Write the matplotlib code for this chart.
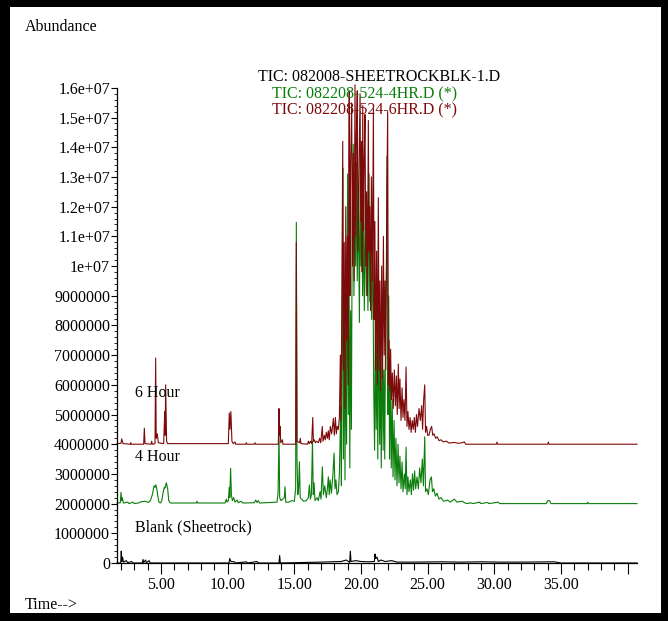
import numpy as np
import matplotlib.pyplot as plt
from matplotlib.patches import Rectangle
from matplotlib.ticker import FixedLocator

plt.rcParams['font.family'] = ['Liberation Serif', 'DejaVu Serif']
plt.rcParams['font.size'] = 11.5

# TIC traces: (retention time [min], abundance [millions])
blank_trace = [
    (1.70, 0.0), (1.98, 0.0), (2.02, 0.40), (2.06, 0.05), (2.12, 0.20), (2.18, 0.03),
    (2.40, 0.08), (2.50, 0.01), (2.80, 0.05), (2.90, 0.0), (3.60, 0.0), (3.65, 0.12),
    (3.70, 0.02), (3.85, 0.10), (3.90, 0.0), (4.10, 0.08), (4.20, 0.0), (10.10, 0.0),
    (10.15, 0.15), (10.25, 0.05), (10.50, 0.04), (10.60, 0.0), (11.40, 0.04), (11.50, 0.0),
    (12.20, 0.05), (12.30, 0.0), (13.85, 0.0), (13.90, 0.25), (13.95, 0.0), (17.00, 0.03),
    (18.50, 0.05), (18.90, 0.10), (19.15, 0.02), (19.20, 0.40), (19.25, 0.05), (19.60, 0.08),
    (20.00, 0.05), (20.50, 0.04), (21.00, 0.05), (21.05, 0.30), (21.10, 0.15), (21.20, 0.20),
    (21.30, 0.05), (21.50, 0.10), (21.80, 0.05), (22.30, 0.08), (22.70, 0.03), (24.00, 0.03),
    (26.00, 0.04), (27.50, 0.03), (29.00, 0.04), (30.50, 0.03), (32.00, 0.03), (34.50, 0.04),
    (35.00, 0.0), (40.70, 0.0),
]

hr4_trace = [
    (1.70, 0.02), (1.95, 0.03), (2.00, 0.38), (2.05, 0.10), (2.10, 0.20), (2.18, 0.02),
    (2.50, 0.05), (2.60, 0.0), (2.90, 0.05), (3.00, 0.0), (3.30, 0.02), (3.50, 0.06),
    (3.80, 0.08), (4.05, 0.04), (4.20, 0.10), (4.35, 0.30), (4.48, 0.60), (4.55, 0.55),
    (4.62, 0.63), (4.70, 0.45), (4.78, 0.20), (4.85, 0.05), (4.95, 0.02), (5.05, 0.08),
    (5.15, 0.35), (5.25, 0.55), (5.30, 0.52), (5.40, 0.70), (5.50, 0.50), (5.58, 0.10),
    (5.70, 0.02), (7.65, 0.02), (7.70, 0.08), (7.75, 0.02), (9.80, 0.02), (9.90, 0.15),
    (9.95, 0.05), (10.05, 0.10), (10.12, 0.55), (10.16, 0.20), (10.22, 1.19), (10.28, 0.30),
    (10.35, 0.10), (10.45, 0.20), (10.55, 0.05), (10.70, 0.12), (10.80, 0.03), (11.00, 0.08),
    (11.15, 0.02), (12.00, 0.03), (12.10, 0.12), (12.20, 0.04), (12.30, 0.10), (12.40, 0.02),
    (13.70, 0.05), (13.78, 0.35), (13.85, 2.40), (13.90, 0.20), (14.00, 0.10), (14.25, 0.20),
    (14.30, 0.57), (14.36, 0.05), (14.60, 0.05), (14.80, 0.10), (15.00, 0.08), (15.10, 0.50),
    (15.15, 9.47), (15.20, 1.50), (15.26, 0.30), (15.32, 0.50), (15.38, 1.41), (15.44, 0.20),
    (15.55, 0.15), (15.70, 0.08), (15.90, 0.10), (16.05, 0.20), (16.13, 0.63), (16.20, 0.15),
    (16.28, 0.30), (16.36, 2.10), (16.42, 0.30), (16.48, 0.70), (16.55, 0.10), (16.70, 0.20),
    (16.80, 0.10), (16.93, 0.40), (17.00, 0.15), (17.10, 1.24), (17.18, 0.30), (17.28, 0.60),
    (17.40, 0.20), (17.48, 0.50), (17.55, 0.90), (17.62, 0.30), (17.68, 0.80), (17.78, 0.35),
    (17.88, 0.90), (17.98, 1.70), (18.05, 0.50), (18.12, 0.80), (18.20, 0.30), (18.30, 0.40),
    (18.38, 1.00), (18.48, 3.30), (18.53, 0.60), (18.58, 5.50), (18.63, 11.30), (18.68, 1.50),
    (18.74, 7.00), (18.80, 0.80), (18.86, 6.00), (18.92, 2.00), (19.00, 11.10), (19.05, 3.00),
    (19.10, 8.50), (19.16, 1.20), (19.22, 6.50), (19.28, 2.50), (19.34, 9.50), (19.42, 12.10),
    (19.47, 7.00), (19.53, 10.00), (19.60, 8.00), (19.66, 11.50), (19.72, 7.50), (19.80, 10.50),
    (19.88, 6.10), (19.95, 12.00), (20.00, 8.00), (20.06, 10.00), (20.12, 7.00), (20.18, 9.50),
    (20.25, 6.50), (20.32, 10.40), (20.40, 7.00), (20.46, 9.00), (20.52, 6.50), (20.60, 11.10),
    (20.66, 6.80), (20.72, 8.50), (20.80, 6.20), (20.88, 9.00), (20.95, 4.00), (21.02, 1.80),
    (21.08, 6.50), (21.14, 2.50), (21.20, 5.50), (21.26, 1.50), (21.33, 7.00), (21.40, 2.00),
    (21.46, 5.00), (21.52, 1.20), (21.60, 6.00), (21.66, 1.80), (21.72, 4.50), (21.78, 1.50),
    (21.85, 6.50), (21.92, 8.00), (21.97, 11.70), (22.02, 3.00), (22.08, 7.00), (22.14, 1.50),
    (22.20, 4.50), (22.27, 1.20), (22.34, 3.50), (22.40, 0.90), (22.48, 2.80), (22.55, 0.80),
    (22.62, 2.20), (22.70, 0.60), (22.78, 2.00), (22.85, 0.70), (22.92, 1.60), (23.00, 0.50),
    (23.08, 1.40), (23.15, 0.40), (23.25, 1.00), (23.32, 0.50), (23.38, 1.90), (23.45, 0.30),
    (23.52, 0.90), (23.60, 0.40), (23.70, 0.80), (23.78, 0.30), (23.86, 1.00), (23.94, 0.45),
    (24.02, 1.10), (24.10, 0.50), (24.20, 0.90), (24.30, 0.50), (24.40, 1.20), (24.50, 0.70),
    (24.60, 1.50), (24.68, 0.60), (24.78, 2.25), (24.84, 0.40), (24.95, 0.50), (25.05, 0.30),
    (25.18, 0.80), (25.28, 0.90), (25.36, 0.40), (25.46, 0.50), (25.58, 0.25), (25.70, 0.35),
    (25.85, 0.15), (26.00, 0.20), (26.20, 0.08), (26.50, 0.12), (26.70, 0.05), (27.00, 0.15),
    (27.20, 0.05), (27.60, 0.08), (27.80, 0.02), (28.00, 0.0), (28.20, 0.03), (28.40, 0.0),
    (28.90, 0.05), (29.00, 0.0), (29.50, 0.04), (29.60, 0.0), (30.30, 0.05), (30.40, 0.0),
    (33.90, 0.0), (34.00, 0.10), (34.15, 0.10), (34.25, 0.0), (36.95, 0.0), (37.00, 0.05),
    (37.05, 0.0), (40.70, 0.0),
]

hr6_trace = [
    (1.70, 0.02), (2.00, 0.03), (2.05, 0.18), (2.10, 0.10), (2.15, 0.02), (2.70, 0.0),
    (2.73, 0.05), (2.76, 0.0), (3.70, 0.0), (3.75, 0.54), (3.80, 0.02), (4.25, 0.0),
    (4.30, 0.10), (4.35, 0.0), (4.55, 0.02), (4.60, 2.90), (4.64, 0.20), (4.72, 0.35),
    (4.80, 0.05), (5.20, 0.02), (5.28, 1.10), (5.31, 0.30), (5.35, 2.00), (5.42, 0.10),
    (5.50, 0.02), (10.05, 0.02), (10.12, 1.05), (10.17, 0.50), (10.24, 1.10), (10.32, 0.10),
    (10.42, 0.02), (10.55, 0.08), (10.60, 0.0), (11.35, 0.0), (11.40, 0.05), (11.45, 0.0),
    (12.00, 0.0), (12.05, 0.05), (12.10, 0.0), (13.80, 0.0), (13.85, 1.20), (13.89, 0.30),
    (13.93, 0.60), (13.98, 0.05), (14.10, 0.15), (14.15, 0.0), (15.10, 0.0), (15.15, 6.80),
    (15.20, 0.10), (15.40, 0.05), (15.45, 0.20), (15.50, 0.02), (16.00, 0.0), (16.05, 0.10),
    (16.12, 0.02), (16.20, 0.10), (16.30, 0.02), (16.38, 0.90), (16.43, 0.10), (16.50, 0.15),
    (16.58, 0.05), (16.65, 0.10), (16.80, 0.05), (16.90, 0.20), (16.98, 0.05), (17.10, 0.60),
    (17.15, 0.10), (17.25, 0.30), (17.32, 0.15), (17.40, 0.40), (17.48, 0.20), (17.55, 0.45),
    (17.62, 0.15), (17.70, 0.60), (17.80, 0.35), (17.93, 0.87), (18.00, 0.30), (18.08, 0.90),
    (18.15, 0.35), (18.22, 0.60), (18.30, 0.50), (18.38, 0.90), (18.45, 3.00), (18.50, 0.80),
    (18.56, 4.50), (18.63, 10.20), (18.68, 2.50), (18.74, 6.80), (18.80, 1.20), (18.86, 8.00),
    (18.92, 3.50), (18.98, 7.00), (19.04, 2.00), (19.08, 9.10), (19.12, 11.90), (19.17, 5.00),
    (19.22, 9.50), (19.30, 11.50), (19.36, 6.00), (19.42, 9.80), (19.48, 5.50), (19.55, 12.10),
    (19.60, 7.00), (19.66, 10.50), (19.72, 11.90), (19.77, 6.50), (19.84, 9.00), (19.93, 11.80),
    (19.98, 7.50), (20.04, 10.20), (20.09, 5.80), (20.13, 11.40), (20.19, 7.20), (20.24, 9.50),
    (20.30, 11.10), (20.36, 6.00), (20.42, 8.50), (20.48, 5.00), (20.55, 10.90), (20.60, 6.50),
    (20.66, 8.00), (20.72, 4.50), (20.78, 9.00), (20.85, 5.50), (20.93, 11.30), (20.98, 4.20),
    (21.04, 7.50), (21.10, 2.50), (21.17, 6.50), (21.23, 2.00), (21.30, 8.30), (21.36, 2.50),
    (21.42, 5.50), (21.48, 1.80), (21.55, 6.00), (21.61, 2.20), (21.68, 7.00), (21.74, 3.00),
    (21.80, 5.50), (21.86, 2.50), (21.93, 8.00), (22.00, 11.20), (22.05, 2.00), (22.10, 3.50),
    (22.16, 1.80), (22.22, 3.20), (22.28, 1.50), (22.35, 2.40), (22.42, 1.20), (22.50, 2.50),
    (22.58, 1.30), (22.65, 2.30), (22.72, 1.00), (22.80, 2.70), (22.86, 1.20), (22.92, 2.20),
    (23.00, 0.80), (23.08, 1.90), (23.15, 0.90), (23.22, 1.50), (23.30, 0.80), (23.38, 2.60),
    (23.45, 0.60), (23.52, 1.10), (23.60, 0.50), (23.68, 0.90), (23.76, 0.40), (23.84, 0.80),
    (23.92, 0.50), (24.00, 0.90), (24.08, 0.40), (24.16, 1.00), (24.24, 0.60), (24.35, 1.20),
    (24.45, 0.80), (24.55, 1.30), (24.62, 0.50), (24.70, 1.50), (24.78, 2.00), (24.84, 0.40),
    (24.92, 0.60), (25.00, 0.30), (25.10, 0.30), (25.20, 0.50), (25.30, 0.60), (25.38, 0.30),
    (25.48, 0.35), (25.60, 0.20), (25.72, 0.25), (25.85, 0.12), (26.00, 0.15), (26.15, 0.08),
    (26.40, 0.10), (26.60, 0.04), (27.00, 0.06), (27.30, 0.03), (27.60, 0.05), (27.75, 0.08),
    (27.85, 0.0), (30.15, 0.0), (30.20, 0.07), (30.25, 0.0), (34.00, 0.0), (34.05, 0.07),
    (34.10, 0.0), (40.70, 0.0),
]

y_ticks = np.arange(0, 17) * 1e6
y_labels = ['0', '1000000', '2000000', '3000000', '4000000', '5000000', '6000000',
            '7000000', '8000000', '9000000', '1e+07', '1.1e+07', '1.2e+07', '1.3e+07',
            '1.4e+07', '1.5e+07', '1.6e+07']
x_ticks = [5, 10, 15, 20, 25, 30, 35, 40]
x_labels = ['5.00', '10.00', '15.00', '20.00', '25.00', '30.00', '35.00', '']

file_names = ['TIC: 082008-SHEETROCKBLK-1.D', 'TIC: 082208-524-4HR.D (*)', 'TIC: 082208-524-6HR.D (*)']
trace_names = ['Blank (Sheetrock)', '4 Hour', '6 Hour']

W, H = 668, 621
fig = plt.figure(figsize=(W / 100, H / 100), dpi=100)
fig.patch.set_facecolor('black')
# white page inside the thick black frame
fig.patches.append(Rectangle((10 / W, 1 - 613 / H), 651 / W, 606 / H,
                             transform=fig.transFigure, facecolor='white',
                             edgecolor='none', zorder=-1))

ax = fig.add_axes([117 / W, 1 - 563 / H, 520 / W, 490 / H])
ax.set_facecolor('none')

colors = ['black', '#0a7d0a', '#7d0a0a']
offsets = [0, 2e6, 4e6]
for trace, color, off in zip([blank_trace, hr4_trace, hr6_trace], colors, offsets):
    t, a = zip(*trace)
    ax.plot(t, np.array(a) * 1e6 + off, color=color, lw=0.8, clip_on=False)

ax.set_xlim(1.7, 40.7)
ax.set_ylim(0, 16.5e6)

for s in ['top', 'right']:
    ax.spines[s].set_visible(False)
ax.spines['left'].set_bounds(0, 16e6)
ax.spines['left'].set_linewidth(0.9)
ax.spines['bottom'].set_linewidth(0.9)

ax.yaxis.set_major_locator(FixedLocator(y_ticks))
ax.set_yticklabels(y_labels)
ax.yaxis.set_minor_locator(FixedLocator(np.arange(0, 16.01e6, 2e5)))
ax.xaxis.set_major_locator(FixedLocator(x_ticks))
ax.set_xticklabels(x_labels)
ax.xaxis.set_minor_locator(FixedLocator(np.arange(2, 41, 1)))
ax.tick_params(axis='y', which='major', length=4, width=0.8, pad=1)
ax.tick_params(axis='y', which='minor', length=2, width=0.6)
ax.tick_params(axis='x', which='major', length=8, width=0.8, pad=2)
ax.tick_params(axis='x', which='minor', length=5, width=0.8)

fig.text(25 / W, 1 - 27 / H, 'Abundance', ha='left', va='center')
fig.text(25 / W, 1 - 605 / H, 'Time-->', ha='left', va='center')

fig.text(258 / W, 1 - 77 / H, file_names[0], ha='left', va='center', color='black')
fig.text(272 / W, 1 - 94 / H, file_names[1], ha='left', va='center', color=colors[1])
fig.text(272 / W, 1 - 110 / H, file_names[2], ha='left', va='center', color=colors[2])

fig.text(135 / W, 1 - 527 / H, trace_names[0], ha='left', va='center')
fig.text(135 / W, 1 - 457 / H, trace_names[1], ha='left', va='center')
fig.text(135 / W, 1 - 393 / H, trace_names[2], ha='left', va='center')

fig.savefig('out.png', dpi=100, facecolor=fig.get_facecolor())
